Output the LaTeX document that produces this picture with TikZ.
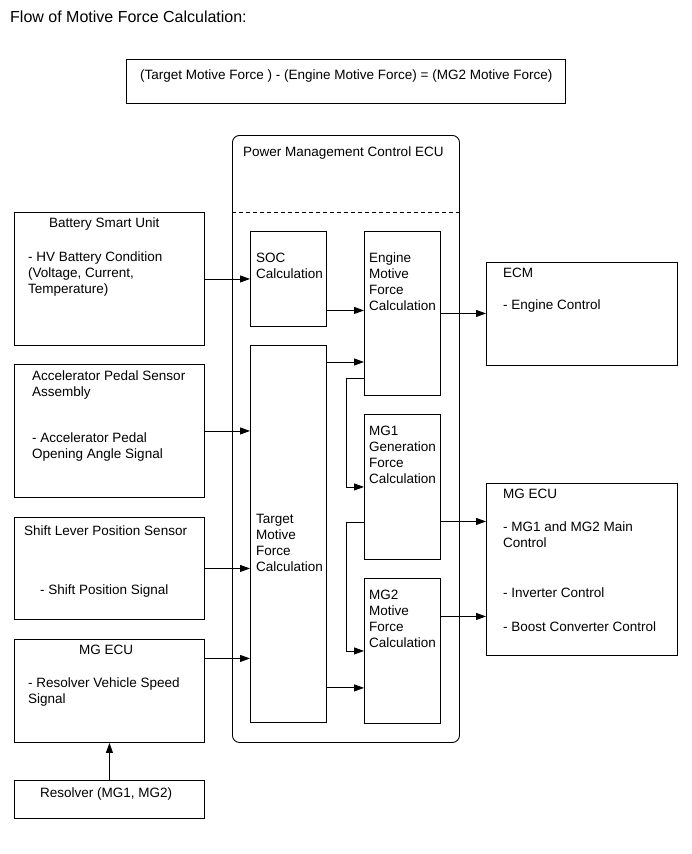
\documentclass[tikz,border=0pt]{standalone}
\usepackage{fontspec}
\setmainfont{Liberation Sans}
\usetikzlibrary{arrows.meta,positioning}
\tikzset{
  >={Triangle[length=10pt,width=7pt]},
  blk/.style={draw, line width=0.9pt, anchor=north west, inner sep=0pt},
  frame/.style={blk, rounded corners=7pt},
  txt/.style={anchor=north west, inner sep=0pt, align=left,
              font=\fontsize{13.5}{16}\selectfont},
  arr/.style={->, line width=0.9pt},
  dashline/.style={line width=0.9pt, dash pattern=on 4pt off 3pt},
}

\begin{document}
\begin{tikzpicture}[x=1pt,y=-1pt]
  \useasboundingbox (0,0) rectangle (691,854);
  % heading and formula
  \node[txt, font=\fontsize{16}{19}\selectfont] (title) at (10,11) {Flow of Motive Force Calculation:};
  \node[blk, minimum width=439pt, minimum height=44pt] (frm) at (126,59) {};
  \node[txt] (frmtxt) at (140,70) {(Target Motive Force ) - (Engine Motive Force) = (MG2 Motive Force)};

  % power management control ECU
  \node[frame, minimum width=227pt, minimum height=607pt] (pmc) at (232,135) {};
  \node[txt] (pmctxt) at (243,147) {Power Management Control ECU};
  \draw[dashline] ([yshift=-77pt]pmc.north west) -- ([yshift=-77pt]pmc.north east);

  \node[blk, minimum width=76pt, minimum height=95pt] (soc) at (250,231) {};
  \node[txt] (soctxt) at (256,253) {SOC\\Calculation};
  \node[blk, minimum width=76pt, minimum height=164pt] (eng) at (364,231) {};
  \node[txt] (engtxt) at (369,253) {Engine\\Motive\\Force\\Calculation};
  \node[blk, minimum width=76pt, minimum height=377pt] (tgt) at (250,345) {};
  \node[txt] (tgttxt) at (256,514) {Target\\Motive\\Force\\Calculation};
  \node[blk, minimum width=76pt, minimum height=145pt] (mg1) at (364,414) {};
  \node[txt] (mg1txt) at (369,426) {MG1\\Generation\\Force\\Calculation};
  \node[blk, minimum width=76pt, minimum height=145pt] (mg2) at (364,578) {};
  \node[txt] (mg2txt) at (369,590) {MG2\\Motive\\Force\\Calculation};

  % inputs
  \node[blk, minimum width=190pt, minimum height=133pt] (bsu) at (14,212) {};
  \node[txt] (bsuhead) at (49,218) {Battery Smart Unit};
  \node[txt] (bsutxt) at (28,252) {- HV Battery Condition\\(Voltage, Current,\\Temperature)};
  \node[blk, minimum width=190pt, minimum height=133pt] (apsa) at (14,364) {};
  \node[txt] (apsatxt) at (32,371) {Accelerator Pedal Sensor\\Assembly\\[30pt]- Accelerator Pedal\\Opening Angle Signal};
  \node[blk, minimum width=190pt, minimum height=102pt] (sls) at (14,517) {};
  \node[txt] (slshead) at (24,526) {Shift Lever Position Sensor};
  \node[txt] (slstxt) at (40,585) {- Shift Position Signal};
  \node[blk, minimum width=190pt, minimum height=103pt] (mgl) at (14,639) {};
  \node[txt] (mglhead) at (79,645) {MG ECU};
  \node[txt] (mgltxt) at (28,678) {- Resolver Vehicle Speed\\Signal};
  \node[blk, minimum width=190pt, minimum height=38pt] (res) at (14,780) {};
  \node[txt] (restxt) at (40,788) {Resolver (MG1, MG2)};

  % outputs
  \node[blk, minimum width=191pt, minimum height=103pt] (ecm) at (486,262) {};
  \node[txt] (ecmtxt) at (503,268) {ECM\\[16pt]- Engine Control};
  \node[blk, minimum width=191pt, minimum height=172pt] (mgr) at (486,483) {};
  \node[txt] (mgrtxt) at (503,489) {MG ECU\\[17pt]- MG1 and MG2 Main\\Control\\[34pt]- Inverter Control\\[18pt]- Boost Converter Control};

  % connections
  \draw[arr] (bsu) -- (soc);
  \draw[arr] (apsa.east) -- (apsa.east -| tgt.west);
  \draw[arr] (sls.east) -- (sls.east -| tgt.west);
  \draw[arr] ([yshift=32.5pt]mgl.east) coordinate (m0) -- (m0 -| tgt.west);
  \draw[arr] (res) -- (mgl);
  \draw[arr] ([yshift=-31.5pt]soc.east) coordinate (s0) -- (s0 -| eng.west);
  \draw[arr] ([yshift=-17pt]tgt.north east) coordinate (t0) -- (t0 -| eng.west);
  \draw[arr] ([yshift=35pt]tgt.south east) coordinate (t1) -- (t1 -| mg2.west);
  \draw[arr] ([yshift=-65pt]eng.west) -- ++(-18,0) |- (mg1.west);
  \draw[arr] ([yshift=-35.5pt]mg1.west) -- ++(-18,0) |- (mg2.west);
  \draw[arr] (eng.east) -- (eng.east -| ecm.west);
  \draw[arr] ([yshift=-34.5pt]mg1.east) coordinate (g0) -- (g0 -| mgr.west);
  \draw[arr] ([yshift=34.5pt]mg2.east) coordinate (g1) -- (g1 -| mgr.west);
\end{tikzpicture}
\end{document}
